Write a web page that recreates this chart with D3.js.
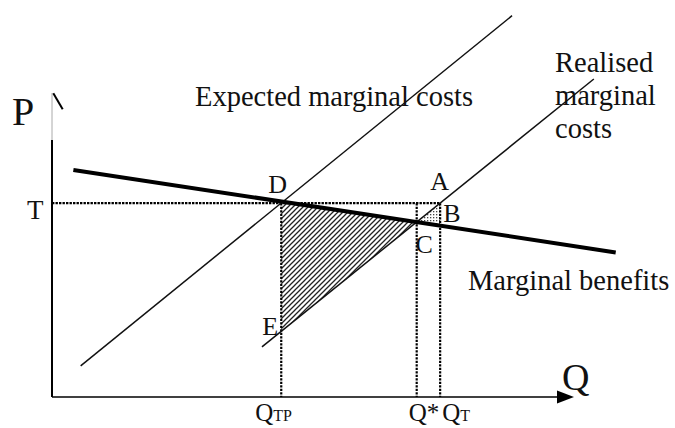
<!DOCTYPE html>
<html>
<head>
<meta charset="utf-8">
<script src="https://cdn.jsdelivr.net/npm/d3@7"></script>
<style>
  html, body { margin: 0; padding: 0; background: #fff; }
  svg { display: block; }
</style>
</head>
<body>
<svg id="chart" width="675" height="428"></svg>
<script>
// Straight-line schedules, as [quantity, price] end points
const marginalBenefits = [[4.1, 75.7], [108.2, 48.2]];
const expectedMC = [[5.5, 10.4], [88.3, 127.1]];
const realisedMC = [[40.3, 16.7], [104.0, 106.0]];

// Reference levels
const tax = 64.6;
const qLevels = [44.0, 70.0, 74.5];          // Q_TP, Q*, Q_T
const qTickMain = ["Q", "Q*", "Q"];
const qTickSub = ["TP", "", "T"];
const pointNames = ["D", "A", "B", "C", "E"];

const FONT = "'Liberation Serif', 'Times New Roman', Tinos, serif";

const svg = d3.select("#chart");
const x = d3.scaleLinear().domain([0, 100]).range([52, 573]);
const y = d3.scaleLinear().domain([0, 100]).range([397, 97]);

const at = (seg, q) => seg[0][1] + (q - seg[0][0]) * (seg[1][1] - seg[0][1]) / (seg[1][0] - seg[0][0]);
const slope = seg => (seg[1][1] - seg[0][1]) / (seg[1][0] - seg[0][0]);
// quantity where two schedules cross
function cross(a, b) {
  const sa = slope(a), sb = slope(b);
  return (b[0][1] - sb * b[0][0] - (a[0][1] - sa * a[0][0])) / (sa - sb);
}

const [qTP, qStar, qT] = qLevels;
const qC = cross(marginalBenefits, realisedMC);
const D = [qTP, at(marginalBenefits, qTP)];
const C = [qC, at(marginalBenefits, qC)];
const E = [qTP, at(realisedMC, qTP)];
const A = [qT, at(realisedMC, qT)];
const B = [qT, at(marginalBenefits, qT)];

// Fill patterns
const defs = svg.append("defs");
const hatch = defs.append("pattern").attr("id", "hatch")
  .attr("patternUnits", "userSpaceOnUse").attr("width", 5).attr("height", 5);
hatch.append("path").attr("d", "M-1,6 L6,-1 M-1,1 L1,-1 M4,6 L6,4")
  .attr("stroke", "#222").attr("stroke-width", 1.3);
const dots = defs.append("pattern").attr("id", "dots")
  .attr("patternUnits", "userSpaceOnUse").attr("width", 3).attr("height", 3);
dots.append("rect").attr("x", 1).attr("y", 1).attr("width", 1.3).attr("height", 1.3).attr("fill", "#444");

const line = d3.line().x(d => x(d[0])).y(d => y(d[1]));

// Shaded areas
svg.append("path").attr("d", line([D, C, E]) + "Z").attr("fill", "url(#hatch)");
svg.append("path").attr("d", line([C, A, B]) + "Z").attr("fill", "url(#dots)");

// Dotted guides
const dotted = g => g.attr("stroke", "#000").attr("stroke-width", 2.2)
  .attr("stroke-dasharray", "2.4,1.1").attr("fill", "none");
svg.append("path").attr("d", line([[0, tax], [qT, tax]])).call(dotted);
qLevels.forEach(q => {
  svg.append("path").attr("d", line([[q, tax], [q, 0]])).call(dotted);
});

// Axes
const x0 = x(0), y0 = y(0);
svg.append("line").attr("x1", x0).attr("y1", y0).attr("x2", 560).attr("y2", y0)
  .attr("stroke", "#000").attr("stroke-width", 1.6);
svg.append("path").attr("d", `M557,390.5 L574,${y0} L557,403.5 Z`).attr("fill", "#000");
svg.append("line").attr("x1", x0).attr("y1", 93).attr("x2", x0).attr("y2", 140)
  .attr("stroke", "#aaa").attr("stroke-width", 1);
svg.append("line").attr("x1", x0).attr("y1", 140).attr("x2", x0).attr("y2", y0)
  .attr("stroke", "#000").attr("stroke-width", 2);
svg.append("line").attr("x1", 53.3).attr("y1", 93.3).attr("x2", 62.7).attr("y2", 109.3)
  .attr("stroke", "#000").attr("stroke-width", 2);

// Schedules
svg.append("path").attr("d", line(expectedMC)).attr("stroke", "#111").attr("stroke-width", 1.5).attr("fill", "none");
svg.append("path").attr("d", line(realisedMC)).attr("stroke", "#111").attr("stroke-width", 1.5).attr("fill", "none");
svg.append("path").attr("d", line(marginalBenefits)).attr("stroke", "#000").attr("stroke-width", 4).attr("fill", "none");

// Text
const txt = (s, px, py, size) => svg.append("text").attr("x", px).attr("y", py)
  .attr("font-family", FONT).attr("fill", "#111").attr("font-size", size).text(s);

txt("P", 12, 125, 40);
txt("Q", 562, 390, 38);
txt("T", 27, 219, 27);
txt("Expected marginal costs", 195, 106, 28.5);
txt("Realised", 555, 72, 28.5);
txt("marginal", 555, 105, 28.5);
txt("costs", 555, 138, 28.5);
txt("Marginal benefits", 468, 290, 28.5);

// Point labels
const labelPos = [[x(D[0]) - 13, 193], [x(A[0]) - 10, 190], [x(B[0]) + 3, 222], [x(C[0]) - 1, 253], [x(E[0]) - 19, 335]];
pointNames.forEach((n, i) => txt(n, labelPos[i][0], labelPos[i][1], 26));

// Quantity tick labels
const tickDx = [-26, -8, 2];
qLevels.forEach((q, i) => {
  const t = txt("", x(q) + tickDx[i], 421, 25);
  t.append("tspan").text(qTickMain[i]);
  if (qTickSub[i]) t.append("tspan").attr("font-size", 16).text(qTickSub[i]);
});
</script>
</body>
</html>
